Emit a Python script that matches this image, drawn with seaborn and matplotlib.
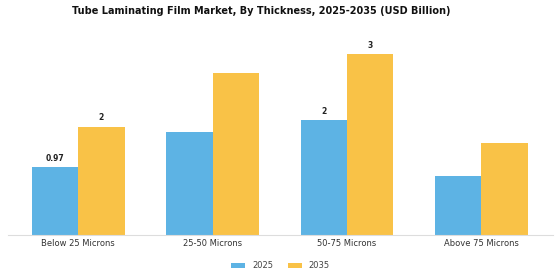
import pandas as pd
import matplotlib.pyplot as plt
import seaborn as sns

categories = ['Below 25 Microns', '25-50 Microns', '50-75 Microns', 'Above 75 Microns']
years = ['2025', '2035']
values_2025 = [0.97, 1.46, 1.63, 0.84]
values_2035 = [1.54, 2.30, 2.57, 1.31]
labels_2025 = ['0.97', '', '2', '']
labels_2035 = ['2', '', '3', '']

df = pd.DataFrame({
    'Thickness': categories * 2,
    'Year': ['2025'] * 4 + ['2035'] * 4,
    'Value': values_2025 + values_2035,
})

sns.set_style('white')
plt.rcParams['font.family'] = ['DejaVu Sans']

fig = plt.figure(figsize=(5.6, 2.8), dpi=100)
ax = fig.add_axes([0.015, 0.16, 0.972, 0.73])
sns.barplot(data=df, x='Thickness', y='Value', hue='Year', hue_order=years,
            palette=['#5DB3E4', '#F9C247'], width=0.69, saturation=1,
            linewidth=0, ax=ax)

for cont, labs in zip(ax.containers, [labels_2025, labels_2035]):
    ax.bar_label(cont, labels=labs, padding=3, fontsize=5.5, fontweight='bold', color='#222222')

ax.set_ylim(0, 2.9)
ax.set_xlim(-0.52, 3.53)
ax.set_xlabel('')
ax.set_ylabel('')
ax.set_yticks([])
ax.tick_params(axis='x', labelsize=6, colors='#333333', length=0, pad=3)
for s in ['top', 'right', 'left']:
    ax.spines[s].set_visible(False)
ax.spines['bottom'].set_color('#dddddd')
ax.spines['bottom'].set_linewidth(0.8)

ax.legend(loc='upper center', bbox_to_anchor=(0.5, -0.09), ncol=2, frameon=False,
          fontsize=6, handlelength=1.7, handleheight=0.6, columnspacing=1.8,
          handletextpad=0.8, labelcolor='#444444')

fig.suptitle('Tube Laminating Film Market, By Thickness, 2025-2035 (USD Billion)',
             fontsize=7, fontweight='bold', x=0.466, y=0.98, color='#111111')

fig.savefig('out.png', dpi=100)
